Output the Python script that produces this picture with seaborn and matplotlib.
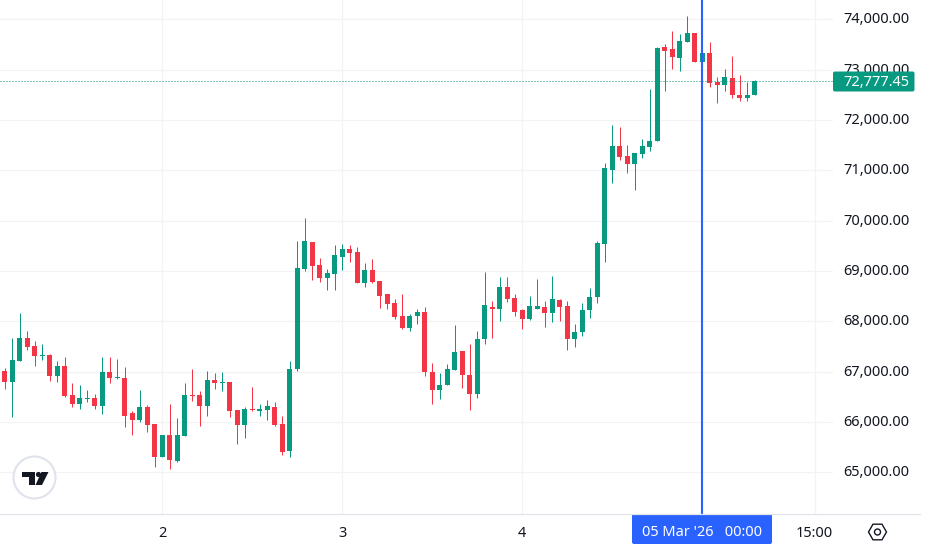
import numpy as np
import pandas as pd
import seaborn as sns
import matplotlib.pyplot as plt
from matplotlib.patches import Circle, FancyBboxPatch, Polygon, RegularPolygon
from matplotlib.lines import Line2D
from matplotlib.transforms import Affine2D

opens = [
    67012, 66793, 67210, 67667, 67508, 67310, 67330, 66912, 67111, 66535,
    66356, 66455, 66475, 66316, 66992, 66873, 66873, 66177, 66038, 66296,
    65959, 65303, 65740, 65223, 65720, 66535, 66535, 66316, 66833, 66773,
    66793, 66237, 65939, 66257, 66217, 66237, 66296, 65959, 65422, 67052,
    69039, 69575, 69118, 68860, 68939, 69277, 69436, 69377, 68761, 69019,
    68800, 68542, 68363, 68105, 67866, 68105, 68184, 66992, 66635, 66734,
    67032, 67410, 66933, 66555, 67648, 68284, 68244, 68681, 68463, 68224,
    68045, 68244, 68284, 68165, 68423, 68304, 67648, 67787, 68224, 68482,
    69535, 71006, 71483, 71284, 71125, 71324, 71463, 71582, 73450, 73410,
    73231, 73549, 73728, 73152, 73330, 72754, 72695, 72834, 72496, 72436,
    72496,
]
closes = [
    66793, 67230, 67667, 67488, 67310, 67330, 66912, 67111, 66515, 66356,
    66475, 66475, 66316, 66992, 66873, 66892, 66118, 66038, 66296, 65939,
    65303, 65740, 65243, 65740, 66535, 66515, 66316, 66833, 66773, 66793,
    66217, 65939, 66257, 66237, 66257, 66316, 65939, 65402, 67051, 69059,
    69595, 69098, 68860, 68959, 69317, 69436, 69357, 68761, 69019, 68780,
    68502, 68343, 68085, 67866, 68105, 68184, 66992, 66635, 66734, 67052,
    67390, 66933, 66555, 67648, 68323, 68244, 68681, 68443, 68184, 68045,
    68304, 68304, 68165, 68443, 68284, 67648, 67787, 68224, 68482, 69555,
    71046, 71483, 71264, 71125, 71344, 71483, 71582, 73430, 73370, 73251,
    73569, 73728, 73152, 73330, 72734, 72695, 72854, 72496, 72436, 72496,
    72777.45,
]
highs = [
    67065, 67667, 68164, 67806, 67608, 67548, 67349, 67210, 67290, 66773,
    66733, 66634, 66555, 67290, 67290, 67250, 67091, 66217, 66634, 66336,
    65959, 65740, 66356, 66078, 66773, 67051, 66614, 67012, 66972, 66992,
    66793, 66237, 66296, 66694, 66356, 66435, 66396, 66118, 67210, 69595,
    70052, 69575, 69257, 69039, 69516, 69535, 69516, 69476, 69158, 69237,
    68800, 68542, 68443, 68542, 68145, 68244, 68284, 67171, 66972, 67151,
    67926, 67410, 67549, 67807, 68979, 68403, 68880, 68880, 68542, 68244,
    68502, 68840, 68403, 68900, 68443, 68403, 67946, 68363, 68661, 69595,
    71145, 71900, 71860, 71503, 71344, 71622, 72615, 73450, 73509, 73768,
    73708, 74066, 73728, 73330, 73549, 72854, 73013, 73271, 72893, 72754,
    72794,
]
lows = [
    66654, 66098, 67210, 67429, 67111, 67230, 66813, 66793, 66495, 66296,
    66257, 66396, 66257, 66157, 66773, 66853, 65899, 65740, 65998, 65800,
    65104, 65303, 65064, 65204, 65720, 66416, 65919, 66118, 66654, 66614,
    66098, 65561, 65680, 66217, 66118, 66038, 65919, 65343, 65303, 67012,
    68999, 68820, 68780, 68621, 68621, 69019, 69178, 68761, 68681, 68761,
    68264, 68244, 68045, 67847, 67807, 67946, 66913, 66356, 66456, 66734,
    67032, 66674, 66237, 66476, 67549, 67668, 68006, 68383, 68105, 67847,
    68025, 68244, 67886, 67986, 68006, 67429, 67489, 67708, 68065, 68363,
    69178, 70748, 71204, 70946, 70608, 71244, 71383, 71582, 72575, 73013,
    72973, 73549, 73152, 72913, 72655, 72337, 72575, 72436, 72377, 72377,
    72496,
]
price_ticks = [65000, 66000, 67000, 68000, 69000, 70000, 71000, 72000, 73000, 74000]
price_labels = ["65,000.00", "66,000.00", "67,000.00", "68,000.00", "69,000.00",
                "70,000.00", "71,000.00", "72,000.00", "73,000.00", "74,000.00"]
time_ticks = [21, 45, 69, 93, 108]
time_labels = ["2", "3", "4", "", "15:00"]
last_price = 72777.45
cursor_hour = 93
cursor_label = "05 Mar '26   00:00"

UP = "#089981"
DOWN = "#f23645"
BLUE = "#2962ff"
INK = "#131722"
GRID = "#f2f3f5"
BORDER = "#e0e3eb"

sns.set_theme(style="white")
plt.rcParams["font.family"] = ["Noto Sans", "DejaVu Sans"]

df = pd.DataFrame({"open": opens, "high": highs, "low": lows, "close": closes})
df["hour"] = df.index
df["dir"] = np.where(df["close"] >= df["open"], "up", "down")
df["body_low"] = df[["open", "close"]].min(axis=1)
df["body"] = (df["close"] - df["open"]).abs()

wicks = df.melt(id_vars=["hour", "dir"], value_vars=["low", "high"], value_name="price")

fig = plt.figure(figsize=(9.3, 5.52), dpi=100, facecolor="white")
ax = fig.add_axes([0, 1 - 514 / 552, 833 / 930, 514 / 552])

# wicks first, bodies on top
sns.lineplot(data=wicks, x="hour", y="price", units="hour", estimator=None, hue="dir",
             palette={"up": UP, "down": DOWN}, legend=False, lw=0.72, sort=False,
             solid_capstyle="butt", zorder=2, ax=ax)
for name, color in [("up", UP), ("down", DOWN)]:
    part = df[df["dir"] == name]
    sns.barplot(data=part, x="hour", y="body", bottom=part["body_low"].to_numpy(),
                native_scale=True, color=color, saturation=1, width=0.667,
                errorbar=None, linewidth=0, zorder=3, ax=ax)

ax.axhline(last_price, color=UP, lw=0.72, ls=(0, (1, 2)), zorder=4)
ax.axvline(cursor_hour, color=BLUE, lw=1.5, zorder=5)

# tiny shift keeps bar edges off the half pixel so all bodies snap to 5px
ax.set_xlim(-0.6133, 110.453)
ax.set_ylim(64170, 74383.5)
ax.set_xlabel("")
ax.set_ylabel("")
ax.set_yticks(price_ticks, price_labels)
ax.set_xticks(time_ticks, time_labels)
ax.yaxis.tick_right()
ax.tick_params(axis="y", length=0, pad=7.2, labelsize=10.5, labelcolor=INK)
ax.tick_params(axis="x", length=0, pad=8.3, labelsize=10.5, labelcolor=INK)
for lab in ax.get_xticklabels()[:3]:
    lab.set_fontweight("bold")
for lab in ax.get_yticklabels():
    lab.set_transform(lab.get_transform() + Affine2D().translate(0, 1.5))
ax.grid(True, color=GRID, lw=0.9)
ax.set_axisbelow(True)
sns.despine(ax=ax, left=True, bottom=True, right=True, top=True)

# overlays in reference pixels, y going down
px = Affine2D().scale(1 / 930, -1 / 552).translate(0, 1) + fig.transFigure

fig.add_artist(Line2D([0, 920], [514, 514], color=BORDER, lw=0.9, transform=px))

# last price tag
fig.add_artist(FancyBboxPatch((833, 71.5), 81.5, 20, boxstyle="round,pad=0,rounding_size=2",
                              fc=UP, ec="none", transform=px))
fig.text(909, 80.5, f"{last_price:,.2f}", color="white", fontsize=10.5, fontweight="semibold",
         ha="right", va="center_baseline", transform=px)

# crosshair time tag
fig.add_artist(FancyBboxPatch((632, 514), 140, 30, boxstyle="round,pad=0,rounding_size=2",
                              fc=BLUE, ec="none", transform=px))
fig.text(702, 530.5, cursor_label, color="white", fontsize=10.5, ha="center",
         va="center_baseline", transform=px)

# settings icon
fig.add_artist(RegularPolygon((877.5, 532), 6, radius=9, orientation=np.pi / 6, fc="none",
                              ec=INK, lw=1.0, transform=px))
fig.add_artist(Circle((877.5, 532), 3, fc="none", ec=INK, lw=1.0, transform=px))

# tradingview badge
fig.add_artist(Circle((34.5, 477.5), 21, fc="white", ec=BORDER, lw=1.5, transform=px))
fig.add_artist(Polygon([(21.5, 472), (35, 472), (35, 485), (28.5, 485), (28.5, 477), (21.5, 477)],
                       fc=INK, ec="none", transform=px))
fig.add_artist(Circle((38.5, 474.5), 2.6, fc=INK, ec="none", transform=px))
fig.add_artist(Polygon([(41.5, 472), (48.5, 472), (42, 485), (35.5, 485)],
                       fc=INK, ec="none", transform=px))

fig.savefig("out.png", dpi=100)
